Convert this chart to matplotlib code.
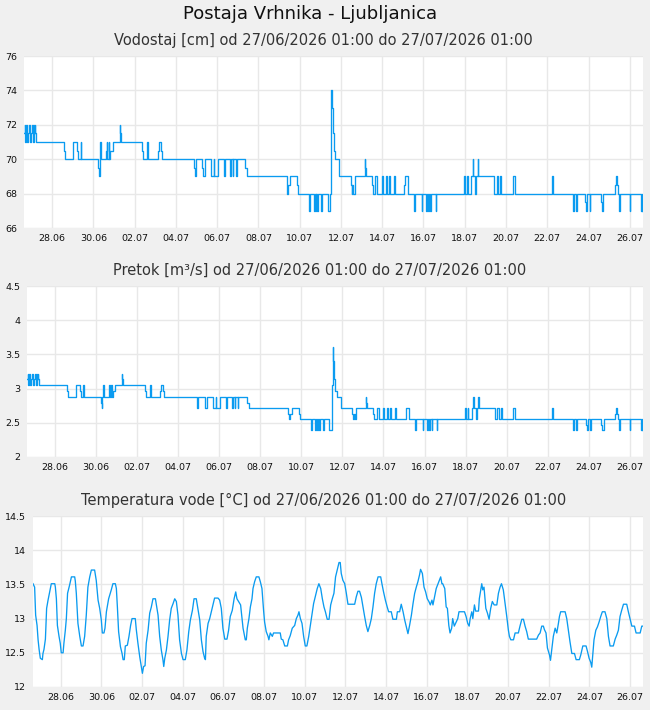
import numpy as np
import matplotlib
matplotlib.use("Agg")
import matplotlib.pyplot as plt

# cas v dneh od 27/06/2026 01:00 (tocke spremembe vodostaja / pretoka)
t_nivo = [0.00, 0.03, 0.07, 0.12, 0.16, 0.19, 0.24, 0.28, 0.34, 0.39, 0.44, 0.47, 0.50, 0.53, 0.55, 0.60,
          1.94, 2.00, 2.39, 2.59, 2.64, 2.74, 2.78,
          3.59, 3.63, 3.67, 3.70, 3.74, 3.97, 4.00, 4.03, 4.11, 4.14, 4.17, 4.29, 4.63, 4.65, 4.68,
          5.74, 5.79, 5.98, 6.02, 6.50, 6.54, 6.63, 6.68,
          8.26, 8.30, 8.33, 8.65, 8.69, 8.75, 9.06, 9.19, 9.22, 9.38, 9.67, 9.71, 9.75, 9.98, 10.01,
          10.11, 10.14, 10.27, 10.30, 10.71, 10.79,
          12.73, 12.76, 12.81, 12.89, 13.23, 13.28,
          13.82, 13.86, 14.04, 14.09, 14.14, 14.17, 14.22, 14.25, 14.40, 14.44, 14.72, 14.84, 14.86,
          14.90, 14.92, 14.96, 15.01, 15.09, 15.27,
          15.85, 15.88, 15.92, 15.95, 16.03, 16.51, 16.53, 16.58, 16.87, 16.90,
          17.03, 17.12, 17.36, 17.41, 17.55, 17.60, 17.68, 17.73, 17.91, 17.99, 18.44, 18.47, 18.60,
          18.89, 18.93, 19.28, 19.31, 19.49, 19.54, 19.59, 19.62, 19.70, 19.74, 19.95, 19.98,
          21.34, 21.39, 21.46, 21.50, 21.66, 21.74, 21.77, 21.85, 21.90, 21.98, 22.02, 22.77, 22.90,
          22.99, 23.07, 23.11, 23.68, 23.79,
          25.57, 25.62, 26.60, 26.64, 26.76, 26.80, 27.21, 27.25, 27.31, 27.42, 27.45, 27.96, 28.00,
          28.08, 28.66, 28.69, 28.73, 28.77, 28.85, 28.88, 29.36, 29.39, 29.89, 29.93, 29.96, 30.00]

vodostaj = [71.5, 72, 71, 72, 71, 71.5, 72, 71, 71.5, 72, 71, 72, 71.5, 72, 71.5, 71,
            70.5, 70, 71, 70.5, 70, 71, 70,
            69.5, 69, 70, 71, 70, 70.5, 71, 70, 71, 70, 70.5, 71, 72, 71.5, 71,
            70.5, 70, 71, 70, 70.5, 71, 70.5, 70,
            69.5, 69, 70, 69.5, 69, 70, 69, 70, 69, 70, 69.5, 69, 70, 69, 70,
            69, 70, 69, 70, 69.5, 69,
            68.5, 68, 68.5, 69, 68.5, 68,
            67, 68, 67, 68, 67, 68, 67, 68, 67, 68, 67, 68, 71,
            74, 73, 71.5, 70.5, 70, 69,
            68.5, 68, 68.5, 68, 69, 70, 69.5, 69, 68.5, 68,
            69, 68, 69, 68, 69, 68, 69, 68, 69, 68, 68.5, 69, 68,
            67, 68, 67, 68, 67, 68, 67, 68, 67, 68, 67, 68,
            69, 68, 69, 68, 69, 70, 69, 68, 69, 70, 69, 68, 69,
            68, 69, 68, 69, 68,
            69, 68, 67, 68, 67, 68, 67.5, 67, 68, 67, 68, 67.5, 67,
            68, 68.5, 69, 68.5, 68, 67, 68, 67, 68, 67, 68, 67, 67]

pretok = [3.14, 3.22, 3.05, 3.22, 3.05, 3.14, 3.22, 3.05, 3.14, 3.22, 3.05, 3.22, 3.14, 3.22, 3.14, 3.05,
          2.97, 2.88, 3.05, 2.97, 2.88, 3.05, 2.88,
          2.79, 2.71, 2.88, 3.05, 2.88, 2.97, 3.05, 2.88, 3.05, 2.88, 2.97, 3.05, 3.22, 3.14, 3.05,
          2.97, 2.88, 3.05, 2.88, 2.97, 3.05, 2.97, 2.88,
          2.79, 2.71, 2.88, 2.79, 2.71, 2.88, 2.71, 2.88, 2.71, 2.88, 2.79, 2.71, 2.88, 2.71, 2.88,
          2.71, 2.88, 2.71, 2.88, 2.79, 2.71,
          2.63, 2.55, 2.63, 2.71, 2.63, 2.55,
          2.39, 2.55, 2.39, 2.55, 2.39, 2.55, 2.39, 2.55, 2.39, 2.55, 2.39, 2.55, 3.05,
          3.61, 3.41, 3.14, 2.97, 2.88, 2.71,
          2.63, 2.55, 2.63, 2.55, 2.71, 2.88, 2.79, 2.71, 2.63, 2.55,
          2.71, 2.55, 2.71, 2.55, 2.71, 2.55, 2.71, 2.55, 2.71, 2.55, 2.63, 2.71, 2.55,
          2.39, 2.55, 2.39, 2.55, 2.39, 2.55, 2.39, 2.55, 2.39, 2.55, 2.39, 2.55,
          2.71, 2.55, 2.71, 2.55, 2.71, 2.88, 2.71, 2.55, 2.71, 2.88, 2.71, 2.55, 2.71,
          2.55, 2.71, 2.55, 2.71, 2.55,
          2.71, 2.55, 2.39, 2.55, 2.39, 2.55, 2.47, 2.39, 2.55, 2.39, 2.55, 2.47, 2.39,
          2.55, 2.63, 2.71, 2.63, 2.55, 2.39, 2.55, 2.39, 2.55, 2.39, 2.55, 2.39, 2.39]

# temperatura vode
t_temp = [0.00, 0.08, 0.13, 0.20, 0.25, 0.30, 0.36, 0.46, 0.49, 0.54, 0.61, 0.67, 0.74, 0.82, 0.90,
          1.07, 1.10, 1.15, 1.20, 1.28, 1.34, 1.39, 1.48, 1.52, 1.59, 1.64, 1.70, 1.80, 1.89,
          2.05, 2.08, 2.13, 2.21, 2.30, 2.38, 2.46, 2.54, 2.62, 2.70, 2.79, 2.87,
          3.03, 3.11, 3.20, 3.28, 3.36, 3.41, 3.49, 3.54, 3.61, 3.72, 3.85, 3.93,
          4.05, 4.10, 4.15, 4.21, 4.30, 4.38, 4.43, 4.49, 4.54, 4.64, 4.72, 4.80, 4.87,
          5.03, 5.08, 5.16, 5.25, 5.33, 5.38, 5.44, 5.51, 5.57, 5.66, 5.74, 5.82, 5.90,
          6.02, 6.07, 6.15, 6.23, 6.31, 6.39, 6.43, 6.48, 6.56, 6.64, 6.72, 6.80, 6.89, 6.97,
          7.05, 7.13, 7.21, 7.30, 7.38, 7.49, 7.57, 7.66, 7.74, 7.84, 7.92,
          8.03, 8.08, 8.20, 8.28, 8.36, 8.44, 8.48, 8.52, 8.61, 8.69, 8.77, 8.85, 8.93,
          9.10, 9.18, 9.26, 9.34, 9.43, 9.54, 9.62, 9.70, 9.80, 9.89, 9.97,
          10.03, 10.21, 10.28, 10.33, 10.38, 10.44, 10.49, 10.54, 10.62, 10.69, 10.77, 10.82, 10.90, 10.98,
          11.11, 11.18, 11.26, 11.34, 11.39, 11.47, 11.56, 11.60, 11.67, 11.77, 11.83,
          12.16, 12.21, 12.29, 12.38, 12.51, 12.57, 12.65, 12.75, 12.87, 12.95,
          13.03, 13.08, 13.15, 13.23, 13.31, 13.39, 13.47, 13.56, 13.64, 13.72, 13.80, 13.90, 13.98,
          14.06, 14.15, 14.23, 14.31, 14.38, 14.47, 14.56, 14.64, 14.72, 14.80, 14.88, 14.97,
          15.05, 15.11, 15.16, 15.24, 15.33, 15.41, 15.49, 15.82, 15.90, 15.98,
          16.06, 16.15, 16.23, 16.31, 16.39, 16.47, 16.56, 16.64, 16.72, 16.80, 16.88, 16.97,
          17.10, 17.16, 17.24, 17.33, 17.42, 17.49, 17.62, 17.70, 17.87, 17.92,
          18.03, 18.11, 18.20, 18.28, 18.36, 18.44, 18.52, 18.61, 18.69, 18.77, 18.85, 18.93,
          19.01, 19.06, 19.15, 19.23, 19.31, 19.39, 19.47, 19.54, 19.62, 19.67, 19.75, 19.83, 19.92,
          20.05, 20.11, 20.15, 20.25, 20.32, 20.38, 20.45, 20.51, 20.59, 20.64, 20.72, 20.81, 20.89, 20.95,
          21.22, 21.30, 21.38, 21.45, 21.50, 21.58, 21.63, 21.71, 21.77, 21.91, 21.95,
          22.02, 22.07, 22.12, 22.18, 22.27, 22.35, 22.43, 22.51, 22.59, 22.68, 22.81, 22.89, 22.97,
          23.04, 23.13, 23.22, 23.30, 23.38, 23.43, 23.50, 23.63, 23.71, 23.87, 23.95,
          24.04, 24.12, 24.20, 24.28, 24.36, 24.77, 24.86, 24.94,
          25.02, 25.10, 25.15, 25.23, 25.30, 25.40, 25.45, 25.51, 25.59, 25.68, 25.76, 25.84, 25.89, 25.95,
          26.17, 26.25, 26.33, 26.41, 26.50, 26.63, 26.71, 26.87, 26.94,
          27.04, 27.20, 27.27, 27.35, 27.43, 27.48, 27.53, 27.59, 27.68, 27.76, 27.84, 27.92,
          28.00, 28.13, 28.22, 28.30, 28.38, 28.54, 28.63, 28.71, 28.79, 28.87, 28.95,
          29.04, 29.20, 29.28, 29.36, 29.45, 29.58, 29.66, 29.86, 29.94, 30.00]

temperatura = [13.51, 13.46, 13.05, 12.90, 12.69, 12.55, 12.42, 12.40, 12.49, 12.55, 12.70, 13.15, 13.27, 13.39, 13.51,
               13.51, 13.46, 13.29, 12.90, 12.74, 12.64, 12.50, 12.50, 12.64, 12.83, 13.00, 13.37, 13.49, 13.61,
               13.61, 13.55, 13.37, 12.93, 12.74, 12.60, 12.60, 12.74, 13.05, 13.46, 13.61, 13.71,
               13.71, 13.56, 13.27, 13.15, 12.98, 12.79, 12.79, 12.86, 13.10, 13.29, 13.42, 13.51,
               13.51, 13.44, 13.17, 12.81, 12.59, 12.49, 12.40, 12.40, 12.60, 12.61, 12.74, 12.90, 13.00,
               13.00, 12.84, 12.64, 12.44, 12.29, 12.20, 12.30, 12.31, 12.64, 12.83, 13.08, 13.17, 13.29,
               13.29, 13.20, 13.05, 12.74, 12.54, 12.40, 12.30, 12.42, 12.54, 12.74, 12.98, 13.15, 13.22, 13.29,
               13.25, 13.05, 12.69, 12.49, 12.40, 12.40, 12.54, 12.81, 12.98, 13.12, 13.29,
               13.29, 13.20, 12.98, 12.69, 12.52, 12.42, 12.40, 12.74, 12.93, 13.00, 13.10, 13.20, 13.30,
               13.30, 13.27, 13.15, 12.86, 12.70, 12.70, 12.83, 13.03, 13.12, 13.29, 13.39,
               13.29, 13.20, 13.00, 12.86, 12.78, 12.69, 12.69, 12.86, 13.00, 13.17, 13.29, 13.44, 13.54, 13.61,
               13.61, 13.54, 13.44, 13.12, 12.95, 12.81, 12.74, 12.69, 12.79, 12.74, 12.79,
               12.79, 12.70, 12.69, 12.60, 12.60, 12.69, 12.75, 12.86, 12.90, 13.00,
               13.05, 13.10, 13.00, 12.93, 12.74, 12.60, 12.60, 12.74, 12.90, 13.05, 13.22, 13.34, 13.44,
               13.51, 13.44, 13.29, 13.17, 13.10, 12.99, 12.99, 13.20, 13.29, 13.37, 13.61, 13.72,
               13.82, 13.82, 13.66, 13.56, 13.51, 13.37, 13.21, 13.21, 13.32, 13.40,
               13.40, 13.31, 13.17, 13.03, 12.90, 12.81, 12.90, 13.00, 13.17, 13.37, 13.51, 13.61,
               13.61, 13.51, 13.39, 13.27, 13.17, 13.10, 13.10, 12.99, 12.99, 13.10,
               13.10, 13.21, 13.10, 12.98, 12.88, 12.78, 12.90, 13.05, 13.22, 13.37, 13.46, 13.54,
               13.64, 13.72, 13.66, 13.46, 13.39, 13.29, 13.25, 13.20, 13.27, 13.20, 13.32, 13.44, 13.51,
               13.61, 13.51, 13.51, 13.44, 13.17, 13.15, 12.90, 12.79, 12.86, 13.00, 12.89, 12.95, 13.00, 13.10,
               13.10, 13.03, 12.93, 12.89, 13.00, 13.10, 13.00, 13.20, 13.11, 13.11, 13.29,
               13.42, 13.51, 13.42, 13.46, 13.15, 13.08, 12.99, 13.15, 13.25, 13.20, 13.20, 13.37, 13.46,
               13.51, 13.42, 13.22, 13.03, 12.83, 12.74, 12.69, 12.69, 12.79, 12.79, 12.89,
               12.99, 12.99, 12.89, 12.81, 12.70, 12.70, 12.76, 12.79,
               12.89, 12.89, 12.84, 12.79, 12.57, 12.47, 12.39, 12.54, 12.74, 12.86, 12.79, 12.93, 13.03, 13.10,
               13.10, 13.00, 12.83, 12.66, 12.49, 12.49, 12.40, 12.40, 12.47,
               12.60, 12.60, 12.52, 12.42, 12.36, 12.29, 12.47, 12.69, 12.83, 12.88, 12.95, 13.03,
               13.10, 13.10, 13.00, 12.74, 12.60, 12.60, 12.70, 12.76, 12.83, 13.03, 13.12,
               13.21, 13.21, 13.10, 13.00, 12.89, 12.89, 12.79, 12.79, 12.89, 12.89]

oznake_dni = ['28.06', '30.06', '02.07', '04.07', '06.07', '08.07', '10.07', '12.07',
              '14.07', '16.07', '18.07', '20.07', '22.07', '24.07', '26.07']

naslov = "Postaja Vrhnika - Ljubljanica"
obdobje = "od 27/06/2026 01:00 do 27/07/2026 01:00"

barva = '#0a9bf0'
ozadje = '#f0f0f0'
mreza = '#e8e8e8'

fig = plt.figure(figsize=(6.5, 7.1), dpi=100, facecolor=ozadje)

fig.text(310 / 650, 1 - 14 / 710, naslov, ha='center', va='center', fontsize=13, color='#111111')

paneli = [
    dict(rect=[24 / 650, 1 - 228 / 710, 619 / 650, 172 / 710], podnaslov="Vodostaj [cm] " + obdobje,
         py=40, px=323, x=t_nivo, y=vodostaj, ylim=(66, 76), yt=[66, 68, 70, 72, 74, 76],
         yl=['66', '68', '70', '72', '74', '76'], step=True),
    dict(rect=[27 / 650, 1 - 457 / 710, 616 / 650, 171 / 710], podnaslov="Pretok [m³/s] " + obdobje,
         py=270, px=320, x=t_nivo, y=pretok, ylim=(2, 4.5), yt=[2, 2.5, 3, 3.5, 4, 4.5],
         yl=['2', '2.5', '3', '3.5', '4', '4.5'], step=True),
    dict(rect=[33 / 650, 1 - 687 / 710, 610 / 650, 171 / 710], podnaslov="Temperatura vode [°C] " + obdobje,
         py=500, px=324, x=t_temp, y=temperatura, ylim=(12, 14.5), yt=[12, 12.5, 13, 13.5, 14, 14.5],
         yl=['12', '12.5', '13', '13.5', '14', '14.5'], step=False),
]

for p in paneli:
    ax = fig.add_axes(p['rect'])
    ax.set_facecolor('white')
    if p['step']:
        ax.plot(p['x'], p['y'], color=barva, lw=0.95, drawstyle='steps-post')
    else:
        ax.plot(p['x'], p['y'], color=barva, lw=0.95)
    ax.set_xlim(0, 30)
    ax.set_ylim(*p['ylim'])
    ax.set_xticks(1.36 + 2 * np.arange(len(oznake_dni)))
    ax.set_xticklabels(oznake_dni)
    ax.set_yticks(p['yt'])
    ax.set_yticklabels(p['yl'])
    ax.grid(True, color=mreza, lw=1)
    ax.set_axisbelow(True)
    for s in ax.spines.values():
        s.set_visible(False)
    ax.tick_params(length=0, labelsize=6.8, colors='#111111')
    ax.tick_params(axis='y', pad=5)
    ax.tick_params(axis='x', pad=4)
    fig.text(p['px'] / 650, 1 - p['py'] / 710, p['podnaslov'], ha='center', va='center',
             fontsize=10.5, color='#333333')

fig.savefig('out.png', dpi=100, facecolor=ozadje)
